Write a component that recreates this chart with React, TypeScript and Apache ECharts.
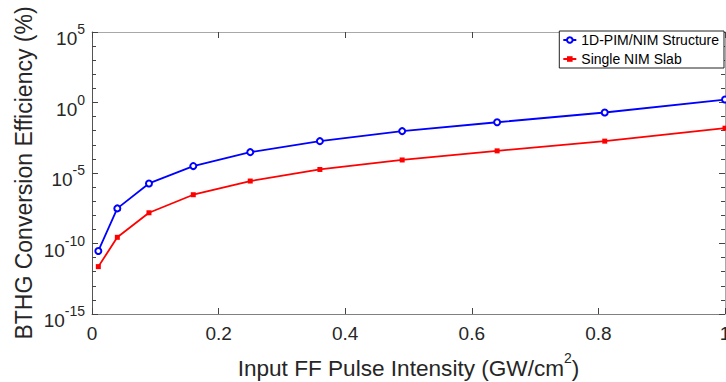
import { useEffect, useRef } from "react";
import * as echarts from "echarts";

const intensity = [0.01, 0.04, 0.09, 0.16, 0.25, 0.36, 0.49, 0.64, 0.81, 1.0];
const pimNimEff = [2.95e-11, 3.09e-8, 1.82e-6, 3.09e-5, 3.02e-4, 1.82e-3, 9.33e-3, 3.98e-2, 0.195, 1.62];
const nimSlabEff = [2.29e-12, 2.75e-10, 1.51e-8, 2.88e-7, 2.69e-6, 1.78e-5, 8.4e-5, 3.72e-4, 1.82e-3, 1.51e-2];
const yLabelExponents = [-15, -10, -5, 0, 5];
const seriesNames = ["1D-PIM/NIM Structure", "Single NIM Slab"];
const xTitle = "Input FF Pulse Intensity (GW/cm";
const yTitle = "BTHG Conversion Efficiency (%)";

const FONT = "'Liberation Sans', Arial, Helvetica, sans-serif";
const TXT = "#262626";

export default function App() {
  const ref = useRef<HTMLDivElement>(null);
  useEffect(() => {
    if (!ref.current) return;
    const chart = echarts.init(ref.current, null, { renderer: "svg" });
    const logBase = {
      type: "log" as const,
      logBase: 10,
      min: 1e-15,
      max: 1e5,
      splitLine: { show: false },
    };
    const yFmt = (v: number) => {
      const e = Math.round(Math.log10(v));
      return yLabelExponents.includes(e) ? `{b|10}{s|${e}}` : "";
    };
    chart.setOption({
      animation: false,
      backgroundColor: "#fff",
      grid: { left: 92, right: 1, top: 32, bottom: 68, containLabel: false, outerBoundsMode: "none" },
      legend: {
        data: seriesNames,
        orient: "vertical",
        right: 2,
        top: 31,
        padding: [1, 5, 1, 3],
        itemGap: 3,
        itemWidth: 13,
        itemHeight: 7,
        borderColor: "#222",
        borderWidth: 1,
        borderRadius: 0,
        backgroundColor: "#fff",
        textStyle: { fontSize: 14, fontFamily: FONT, color: "#000", lineHeight: 16 },
      },
      xAxis: [
        {
          type: "value",
          min: 0,
          max: 1,
          interval: 0.2,
          position: "bottom",
          splitLine: { show: false },
          axisLine: { show: true, onZero: false, lineStyle: { color: "#808080", width: 1 } },
          axisTick: { show: true, inside: true, length: 6, lineStyle: { color: "#444" } },
          axisLabel: {
            fontSize: 19,
            fontFamily: FONT,
            color: TXT,
            margin: 10,
            formatter: (v: number) => String(Math.round(v * 10) / 10),
          },
          name: `{n|${xTitle}}{s|2}{n|)}`,
          nameLocation: "middle",
          nameGap: 37,
          nameMoveOverlap: false,
          nameTextStyle: {
            rich: {
              n: { fontSize: 22.6, lineHeight: 23, fontFamily: FONT, color: TXT, padding: [12, 0, 0, 0] },
              s: { fontSize: 14, lineHeight: 15, fontFamily: FONT, color: TXT, verticalAlign: "top" },
            },
          },
        },
        {
          type: "value",
          min: 0,
          max: 1,
          interval: 0.2,
          position: "top",
          splitLine: { show: false },
          axisLine: { show: true, onZero: false, lineStyle: { color: "#a8a8a8", width: 1 } },
          axisTick: { show: true, inside: true, length: 6, lineStyle: { color: "#444" } },
          axisLabel: { show: false },
        },
      ],
      yAxis: [
        {
          ...logBase,
          interval: 1,
          position: "left",
          axisLine: { show: true, onZero: false, lineStyle: { color: "#555", width: 1 } },
          axisTick: { show: true, inside: true, length: 4, lineStyle: { color: "#444" } },
          axisLabel: {
            margin: 7,
            color: TXT,
            padding: [6, 0, 0, 0],
            formatter: yFmt,
            rich: {
              b: { fontSize: 19, fontFamily: FONT, color: TXT, padding: [7, 0, 0, 0] },
              s: { fontSize: 14, fontFamily: FONT, color: TXT, verticalAlign: "top" },
            },
          },
          name: yTitle,
          nameLocation: "middle",
          nameGap: 57,
          nameMoveOverlap: false,
          nameTextStyle: { fontSize: 23, fontFamily: FONT, color: TXT },
        },
        {
          ...logBase,
          interval: 5,
          position: "left",
          axisLine: { show: false, onZero: false },
          axisTick: { show: true, inside: true, length: 6, lineStyle: { color: "#444" } },
          axisLabel: { show: false },
        },
        {
          ...logBase,
          interval: 1,
          position: "right",
          axisLine: { show: true, onZero: false, lineStyle: { color: "#a8a8a8", width: 1 } },
          axisTick: { show: true, inside: true, length: 4, lineStyle: { color: "#444" } },
          axisLabel: { show: false },
        },
        {
          ...logBase,
          interval: 5,
          position: "right",
          axisLine: { show: false, onZero: false },
          axisTick: { show: true, inside: true, length: 6, lineStyle: { color: "#444" } },
          axisLabel: { show: false },
        },
      ],
      series: [
        {
          name: seriesNames[0],
          type: "line",
          xAxisIndex: 0,
          yAxisIndex: 0,
          data: intensity.map((x, i) => [x, pimNimEff[i]]),
          symbol: "emptyCircle",
          symbolSize: 6,
          color: "#0000ff",
          lineStyle: { color: "#0000ff", width: 1.8 },
          itemStyle: { color: "#0000ff", borderColor: "#0000ff", borderWidth: 1.5 },
        },
        {
          name: seriesNames[1],
          type: "line",
          xAxisIndex: 0,
          yAxisIndex: 0,
          data: intensity.map((x, i) => [x, nimSlabEff[i]]),
          symbol: "rect",
          symbolSize: 5,
          color: "#ff0000",
          lineStyle: { color: "#ff0000", width: 1.8 },
          itemStyle: { color: "#ff0000" },
        },
      ],
    });
    return () => chart.dispose();
  }, []);
  return <div ref={ref} style={{ width: 726, height: 382, position: "fixed", left: 0, top: 0 }} />;
}
